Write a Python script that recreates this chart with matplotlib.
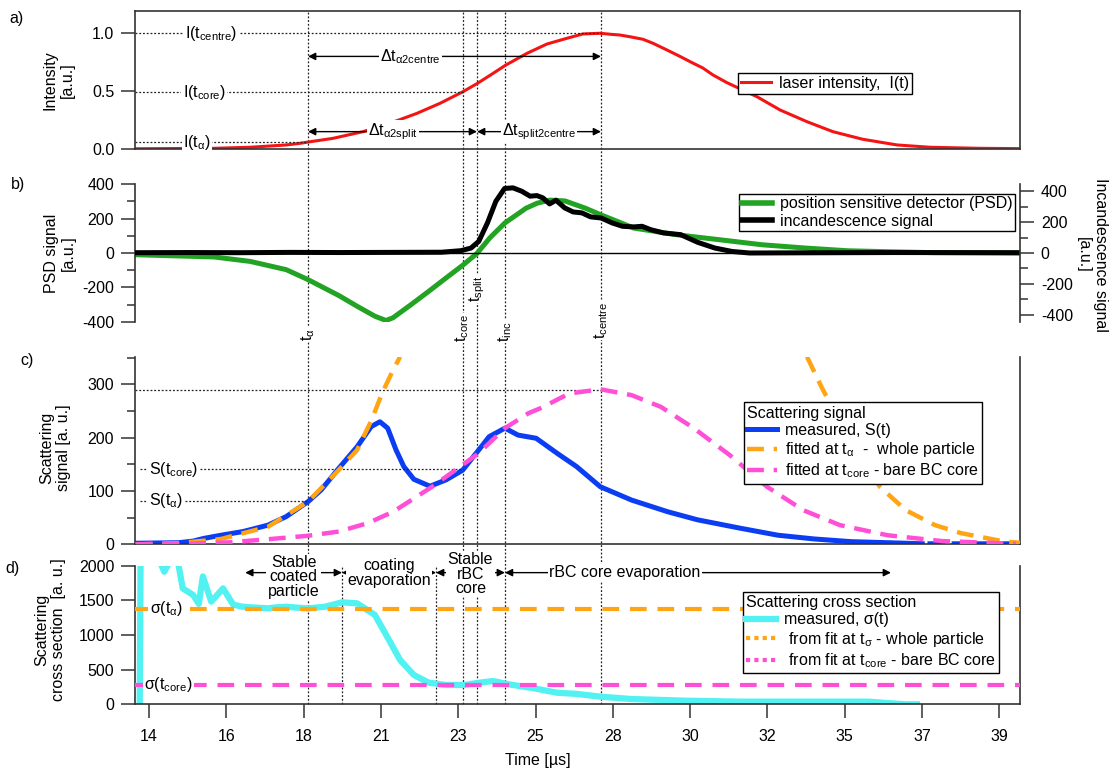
import matplotlib
matplotlib.use("Agg")
import numpy as np
import matplotlib.pyplot as plt
from matplotlib.lines import Line2D
from matplotlib.ticker import MultipleLocator
from matplotlib.transforms import blended_transform_factory

# ---------------------------------------------------------------- data
# time axis (µs) - ticks are evenly spaced, labels are rounded values
tick_pos = [13.8, 16.1, 18.4, 20.7, 23.0, 25.3, 27.6, 29.9, 32.2, 34.5, 36.8, 39.1]
tick_labels = ["14", "16", "18", "21", "23", "25", "28", "30", "32", "35", "37", "39"]
XMIN, XMAX = 13.38, 39.72

# characteristic times
t_alpha = 18.53
t_stable_end = 19.54
t_coat_end = 22.34
t_core = 23.13
t_split = 23.56
t_inc = 24.39
t_centre = 27.25
t_evap_end = 35.88
t_evap_start = 16.66

# a) laser intensity
laser_t = [13.38, 15.73, 16.81, 17.88, 18.29, 18.53, 19.27, 20.17, 21.18, 21.77, 22.46,
           23.14, 23.56, 24.04, 24.42, 25.05, 25.64, 26.24, 26.71, 27.22, 27.58, 27.81,
           28.11, 28.50, 28.80, 29.21, 29.60, 29.96, 30.28, 30.58, 31.00, 31.89, 32.58,
           33.38, 34.15, 35.04, 36.06, 37.04, 38.53, 39.72]
laser_i = [0.002, 0.006, 0.015, 0.035, 0.049, 0.060, 0.092, 0.15, 0.245, 0.308, 0.395,
           0.495, 0.565, 0.654, 0.726, 0.827, 0.907, 0.957, 0.994, 1.0, 0.99, 0.985,
           0.97, 0.948, 0.913, 0.856, 0.80, 0.746, 0.70, 0.64, 0.573, 0.452, 0.337,
           0.236, 0.15, 0.084, 0.035, 0.015, 0.006, 0.003]
I_centre, I_core, I_alpha = 1.0, 0.49, 0.057

# b) PSD and incandescence
psd_t = [13.38, 15.73, 16.81, 17.88, 18.53, 19.45, 19.99, 20.52, 20.85, 21.06, 21.60,
         22.13, 22.64, 23.13, 23.56, 23.95, 24.39, 25.02, 25.35, 25.73, 26.18, 26.77,
         27.25, 28.23, 29.51, 30.79, 32.04, 33.32, 34.60, 35.88, 37.16, 39.72]
psd_v = [-10, -23, -49, -97, -155, -248, -310, -368, -393, -377, -300,
         -222, -145, -72, -2, 90, 175, 261, 290, 308, 303, 262,
         222, 145, 106, 77, 48, 29, 13, 7, 2, 0]
inc_t = [13.38, 15.0, 16.5, 18.0, 19.5, 21.0, 22.5, 23.08, 23.38, 23.61, 23.87, 24.12,
         24.38, 24.63, 24.89, 25.14, 25.34, 25.52, 25.72, 25.91, 26.17, 26.42, 26.68,
         26.94, 27.25, 27.58, 27.89, 28.22, 28.47, 28.73, 29.11, 29.62, 30.13, 30.64,
         31.15, 31.67, 33.0, 36.0, 39.72]
inc_v = [2, 3, 2, 4, 3, 4, 5, 15, 32, 75, 195, 335,
         418, 422, 400, 368, 372, 357, 318, 342, 292, 266, 260,
         234, 227, 195, 173, 169, 173, 151, 130, 119, 69, 32,
         10, 0, 1, 3, 2]

# c) scattering signal
scat_t = [13.40, 14.68, 15.11, 15.42, 15.94, 16.60, 17.34, 17.88, 18.53, 18.92, 19.45,
          19.99, 20.41, 20.67, 20.90, 21.15, 21.38, 21.68, 22.16, 22.64, 23.13, 23.61,
          23.92, 24.39, 24.78, 25.32, 25.94, 26.52, 27.23, 28.16, 29.24, 30.12, 31.41,
          32.52, 33.60, 34.69, 36.32, 36.81, np.nan, 37.04, 37.42, np.nan, 37.76, 39.72]
scat_v = [2, 3, 6, 11, 17, 24, 36, 52, 80, 102, 143,
          183, 221, 230, 218, 177, 146, 122, 109, 121, 139, 177,
          202, 218, 205, 199, 171, 146, 108, 83, 61, 46, 30,
          17, 10, 5, 2, 1, np.nan, 1, 1, np.nan, 1, 1]
fit_a_rise_t = [13.40, 14.68, 15.94, 17.34, 18.53, 19.45, 19.99, 20.42, 20.73, 21.06, 21.27]
fit_a_rise_v = [0, 2, 10, 33, 80, 140, 177, 233, 283, 327, 352]
fit_a_fall_t = [33.38, 33.83, 34.70, 35.55, 36.32, 37.19, 37.96, 39.27, 39.72]
fit_a_fall_v = [352, 293, 190, 108, 64, 36, 21, 5, 3]
fit_c_t = [13.40, 14.90, 16.17, 17.43, 18.53, 19.45, 20.32, 21.06, 21.68, 22.22, 23.13,
           23.61, 24.39, 25.09, 25.43, 25.84, 26.30, 27.23, 28.16, 29.03, 30.01, 31.09,
           32.19, 33.27, 34.36, 35.78, 37.41, 39.60]
fit_c_v = [0, 1, 3.6, 10, 16, 24, 40, 61, 86, 108, 149,
           171, 218, 246, 255, 268, 283, 291, 280, 258, 218, 167,
           108, 64, 36, 17, 6, 1]
S_peak, S_core, S_alpha = 290, 141, 82

# d) scattering cross section
sig_t = [13.52, 13.55, 14.13, 14.25, 14.40, 14.66, 14.80, 15.11, 15.28, 15.40, 15.65,
         16.00, 16.30, 16.55, 16.81, 17.34, 17.60, 17.88, 18.20, 18.53, 19.04, 19.54,
         19.99, 20.52, 20.94, 21.27, 21.68, 22.12, 22.64, 23.18, 23.71, 24.04, 24.45,
         25.32, 25.94, 26.53, 27.23, 28.16, 29.78, 31.41, 33.05, 35.22, 35.88, 36.32, 36.65]
sig_v = [0, 2400, 2050, 1913, 2050, 2050, 1673, 1577, 1450, 1845, 1481,
         1673, 1440, 1410, 1400, 1385, 1400, 1408, 1395, 1385, 1408, 1472,
         1457, 1289, 928, 639, 423, 312, 279, 279, 317, 336, 293,
         225, 167, 150, 110, 76, 52, 38, 38, 38, 14, 0, 0]
sigma_alpha, sigma_core = 1380, 280

# ---------------------------------------------------------------- style
plt.rcParams.update({
    "font.family": ["Liberation Sans", "DejaVu Sans"],
    "font.size": 11.5,
    "mathtext.fontset": "custom",
    "mathtext.rm": "Liberation Sans",
    "mathtext.it": "Liberation Sans:italic",
    "mathtext.bf": "Liberation Sans:bold",
    "mathtext.default": "regular",
    "axes.unicode_minus": False,
})
FS = 11.5
SPINE = "#333333"
RED = "#f41414"
GREEN = "#23a323"
BLUE = "#0b3ef2"
ORANGE = "#ffa412"
PINK = "#ff4fd6"
CYAN = "#52f2f2"
DOT = dict(color="#222222", lw=0.9, ls=(0, (1.5, 1.5)))
WHITE = dict(boxstyle="square,pad=0.08", fc="white", ec="none")

W_PX, H_PX = 1114, 769


def fx(px):
    return px / W_PX


def fy(py):
    return 1 - py / H_PX


def style(ax):
    ax.set_facecolor("none")
    ax.set_xlim(XMIN, XMAX)
    ax.tick_params(which="major", direction="out", length=10, width=1.1,
                   color=SPINE, pad=5, labelsize=FS)
    ax.tick_params(which="minor", direction="out", length=5.5, width=1.1, color=SPINE)
    for s in ax.spines.values():
        s.set_color(SPINE)
        s.set_linewidth(1.2)


def span_arrow(ax, x0, x1, y):
    ax.annotate("", xy=(x1, y), xytext=(x0, y), annotation_clip=False,
                arrowprops=dict(arrowstyle="<|-|>", color="black", lw=1.0,
                                shrinkA=0, shrinkB=0, mutation_scale=11))


fig = plt.figure(figsize=(11.14, 7.69), dpi=100)
L, W = fx(135), fx(1020) - fx(135)
ax_a = fig.add_axes([L, fy(149), W, (149 - 10.7) / H_PX])
ax_b = fig.add_axes([L, fy(321.7), W, (321.7 - 184.3) / H_PX])
ax_c = fig.add_axes([L, fy(544.3), W, (544.3 - 357.3) / H_PX])
ax_d = fig.add_axes([L, fy(704.3), W, (704.3 - 565.7) / H_PX])
for ax in (ax_a, ax_b, ax_c, ax_d):
    style(ax)

# ---------------------------------------------------------------- a)
ax_a.plot(laser_t, laser_i, color=RED, lw=2.2, zorder=2)
ax_a.set_ylim(0, 1.195)
ax_a.set_yticks([0, 0.5, 1.0])
ax_a.set_yticklabels(["0.0", "0.5", "1.0"])
ax_a.set_xticks([])
ax_a.hlines(I_centre, XMIN, t_centre, **DOT)
ax_a.hlines(I_core, XMIN, t_core, **DOT)
ax_a.hlines(I_alpha, XMIN, t_alpha, **DOT)
ax_a.text(15.645, I_centre, r"I(t$_{centre}$)", ha="center", va="center", bbox=WHITE, zorder=5)
ax_a.text(15.44, I_core, r"I(t$_{core}$)", ha="center", va="center", bbox=WHITE, zorder=5)
ax_a.text(15.23, I_alpha, r"I(t$_{α}$)", ha="center", va="center", bbox=WHITE, zorder=5)
span_arrow(ax_a, t_alpha, t_centre, 0.80)
span_arrow(ax_a, t_alpha, t_split, 0.15)
span_arrow(ax_a, t_split, t_centre, 0.15)
ax_a.text(21.57, 0.80, r"Δt$_{α2centre}$", ha="center", va="center", bbox=WHITE, zorder=5)
ax_a.text(21.06, 0.15, r"Δt$_{α2split}$", ha="center", va="center", bbox=WHITE, zorder=5)
ax_a.text(25.40, 0.15, r"Δt$_{split2centre}$", ha="center", va="center", bbox=WHITE, zorder=5)
ax_a.legend(handles=[Line2D([], [], color=RED, lw=2.2)], labels=["laser intensity,  I(t)"],
            loc="center", bbox_to_anchor=(fx(825), fy(83.5)), bbox_transform=fig.transFigure,
            fancybox=False, edgecolor="black", framealpha=1, fontsize=FS,
            borderpad=0.2, handlelength=1.9, handletextpad=0.5, borderaxespad=0)

# ---------------------------------------------------------------- b)
ax_b2 = ax_b.twinx()
style(ax_b2)
ax_b.plot(psd_t, psd_v, color=GREEN, lw=3.6)
ax_b2.plot(inc_t, inc_v, color="black", lw=3.6)
ax_b.axhline(0, color="black", lw=1.0)
ax_b.set_ylim(-400, 400)
ax_b2.set_ylim(-445, 445)
for ax in (ax_b, ax_b2):
    ax.set_yticks([-400, -200, 0, 200, 400])
    ax.yaxis.set_minor_locator(MultipleLocator(100))
    ax.set_xticks([])
    for s in ("top", "bottom"):
        ax.spines[s].set_visible(False)
ax_b.spines["right"].set_visible(False)
ax_b2.spines["left"].set_visible(False)
ax_b2.spines["right"].set_bounds(-445, 445)
ax_b2.legend(handles=[Line2D([], [], color=GREEN, lw=4), Line2D([], [], color="black", lw=4)],
             labels=["position sensitive detector (PSD)", "incandescence signal"],
             loc="center", bbox_to_anchor=(fx(877), fy(212.5)), bbox_transform=fig.transFigure,
             fancybox=False, edgecolor="black", framealpha=1, fontsize=FS,
             borderpad=0.15, labelspacing=0.15, handlelength=1.9, handletextpad=0.5,
             borderaxespad=0)

# ---------------------------------------------------------------- c)
ax_c.plot(scat_t, scat_v, color=BLUE, lw=3.6, zorder=2)
ax_c.plot(fit_a_rise_t, fit_a_rise_v, color=ORANGE, lw=3.2, dashes=(3.8, 2.2), zorder=3)
ax_c.plot(fit_a_fall_t, fit_a_fall_v, color=ORANGE, lw=3.2, dashes=(3.8, 2.2), zorder=3)
ax_c.plot(fit_c_t, fit_c_v, color=PINK, lw=3.2, dashes=(3.8, 2.2), zorder=4)
ax_c.set_ylim(0, 351)
ax_c.set_yticks([0, 100, 200, 300])
ax_c.yaxis.set_minor_locator(MultipleLocator(50))
ax_c.set_xticks([])
ax_c.spines["top"].set_visible(False)
ax_c.hlines(S_peak, XMIN, t_centre, **DOT)
ax_c.hlines(S_core, XMIN + 0.15, t_core, **DOT)
ax_c.hlines(S_alpha, XMIN + 0.15, t_alpha, **DOT)
ax_c.text(14.54, S_core, r"S(t$_{core}$)", ha="center", va="center", bbox=WHITE, zorder=5)
ax_c.text(14.31, S_alpha, r"S(t$_{α}$)", ha="center", va="center", bbox=WHITE, zorder=5)
leg_c = ax_c.legend(
    handles=[Line2D([], [], color=BLUE, lw=3.6),
             Line2D([], [], color=ORANGE, lw=3.2, dashes=(3.8, 2.2)),
             Line2D([], [], color=PINK, lw=3.2, dashes=(3.8, 2.2))],
    labels=["measured, S(t)", r"fitted at t$_{α}$  -  whole particle",
            r"fitted at t$_{core}$ - bare BC core"],
    title="Scattering signal", title_fontsize=FS, alignment="left",
    loc="center", bbox_to_anchor=(fx(863), fy(443)), bbox_transform=fig.transFigure,
    fancybox=False, edgecolor="black", framealpha=1, fontsize=FS,
    borderpad=0.2, labelspacing=0.15, handlelength=1.9, handletextpad=0.5, borderaxespad=0)
leg_c.set_zorder(10)

# ---------------------------------------------------------------- d)
ax_d.plot(sig_t, sig_v, color=CYAN, lw=4.5, zorder=2)
ax_d.axhline(sigma_alpha, color=ORANGE, lw=3, dashes=(4, 2.6), zorder=3)
ax_d.axhline(sigma_core, color=PINK, lw=3, dashes=(4, 2.6), zorder=3)
ax_d.set_ylim(0, 2000)
ax_d.set_yticks([0, 500, 1000, 1500, 2000])
ax_d.set_xticks(tick_pos)
ax_d.set_xticklabels(tick_labels)
ax_d.tick_params(axis="x", pad=8)
ax_d.spines["top"].set_visible(False)
ax_d.text(14.31, sigma_alpha, r"σ(t$_{α}$)", ha="center", va="center", bbox=WHITE, zorder=5)
ax_d.text(14.37, sigma_core, r"σ(t$_{core}$)", ha="center", va="center", bbox=WHITE, zorder=5)
span_arrow(ax_d, t_evap_start, t_stable_end, 1900)
span_arrow(ax_d, t_stable_end, t_coat_end, 1900)
span_arrow(ax_d, t_coat_end, t_inc, 1900)
span_arrow(ax_d, t_inc, t_evap_end, 1900)
phase_kw = dict(ha="center", va="center", bbox=WHITE, zorder=5, linespacing=0.95,
                clip_on=False)
ax_d.text((t_evap_start + t_stable_end) / 2, 1840, "Stable\ncoated\nparticle", **phase_kw)
ax_d.text((t_stable_end + t_coat_end) / 2, 1895, "coating\nevaporation", **phase_kw)
ax_d.text((t_coat_end + t_inc) / 2, 1880, "Stable\nrBC\ncore", **phase_kw)
ax_d.text(27.96, 1900, "rBC core evaporation", **phase_kw)
leg_d = ax_d.legend(
    handles=[Line2D([], [], color=CYAN, lw=4.5),
             Line2D([], [], color=ORANGE, lw=3, ls=(0, (1, 1))),
             Line2D([], [], color=PINK, lw=3, ls=(0, (1, 1)))],
    labels=["measured, σ(t)", r" from fit at t$_{σ}$ - whole particle",
            r" from fit at t$_{core}$ - bare BC core"],
    title="Scattering cross section", title_fontsize=FS, alignment="left",
    loc="center", bbox_to_anchor=(fx(871), fy(632.5)), bbox_transform=fig.transFigure,
    fancybox=False, edgecolor="black", framealpha=1, fontsize=FS,
    borderpad=0.2, labelspacing=0.15, handlelength=1.9, handletextpad=0.5, borderaxespad=0)
leg_d.set_zorder(10)

# ---------------------------------------------------------------- figure-wide marks
trans = blended_transform_factory(ax_d.transData, fig.transFigure)
for t in (t_alpha, t_core, t_split, t_inc, t_centre):
    fig.add_artist(Line2D([t, t], [fy(704.3), fy(10.7)], transform=trans, zorder=-1, **DOT))
for t in (t_stable_end, t_coat_end):
    fig.add_artist(Line2D([t, t], [fy(704.3), fy(565.7)], transform=trans, zorder=-1, **DOT))

for t, lab, py in [(t_alpha, r"t$_{α}$", 341), (t_core, r"t$_{core}$", 342),
                   (t_split, r"t$_{split}$", 302), (t_inc, r"t$_{inc}$", 342),
                   (t_centre, r"t$_{centre}$", 339)]:
    fig.text(t, fy(py), lab, transform=trans, rotation=90, ha="center", va="bottom",
             bbox=WHITE, zorder=5)

# axis titles and panel letters
fig.text(fx(59), fy(80), "Intensity\n[a.u.]", rotation=90, ha="center", va="center",
         multialignment="center")
fig.text(fx(60), fy(253), "PSD signal\n[a.u.]", rotation=90, ha="center", va="center",
         multialignment="center")
fig.text(fx(1092), fy(255), "Incandescence signal\n[a.u.]", rotation=270, ha="center",
         va="center", multialignment="center")
fig.text(fx(55), fy(448), "Scattering\nsignal [a. u.]", rotation=90, ha="center",
         va="center", multialignment="center")
fig.text(fx(50), fy(630), "Scattering\ncross section  [a. u.]", rotation=90, ha="center",
         va="center", multialignment="center")
fig.text(fx(538), fy(760), "Time [µs]", ha="center", va="center")
for lab, px, py in [("a)", 17, 19), ("b)", 18, 185), ("c)", 27, 360), ("d)", 13, 568)]:
    fig.text(fx(px), fy(py), lab, ha="center", va="center")

fig.savefig("out.png", dpi=100)
